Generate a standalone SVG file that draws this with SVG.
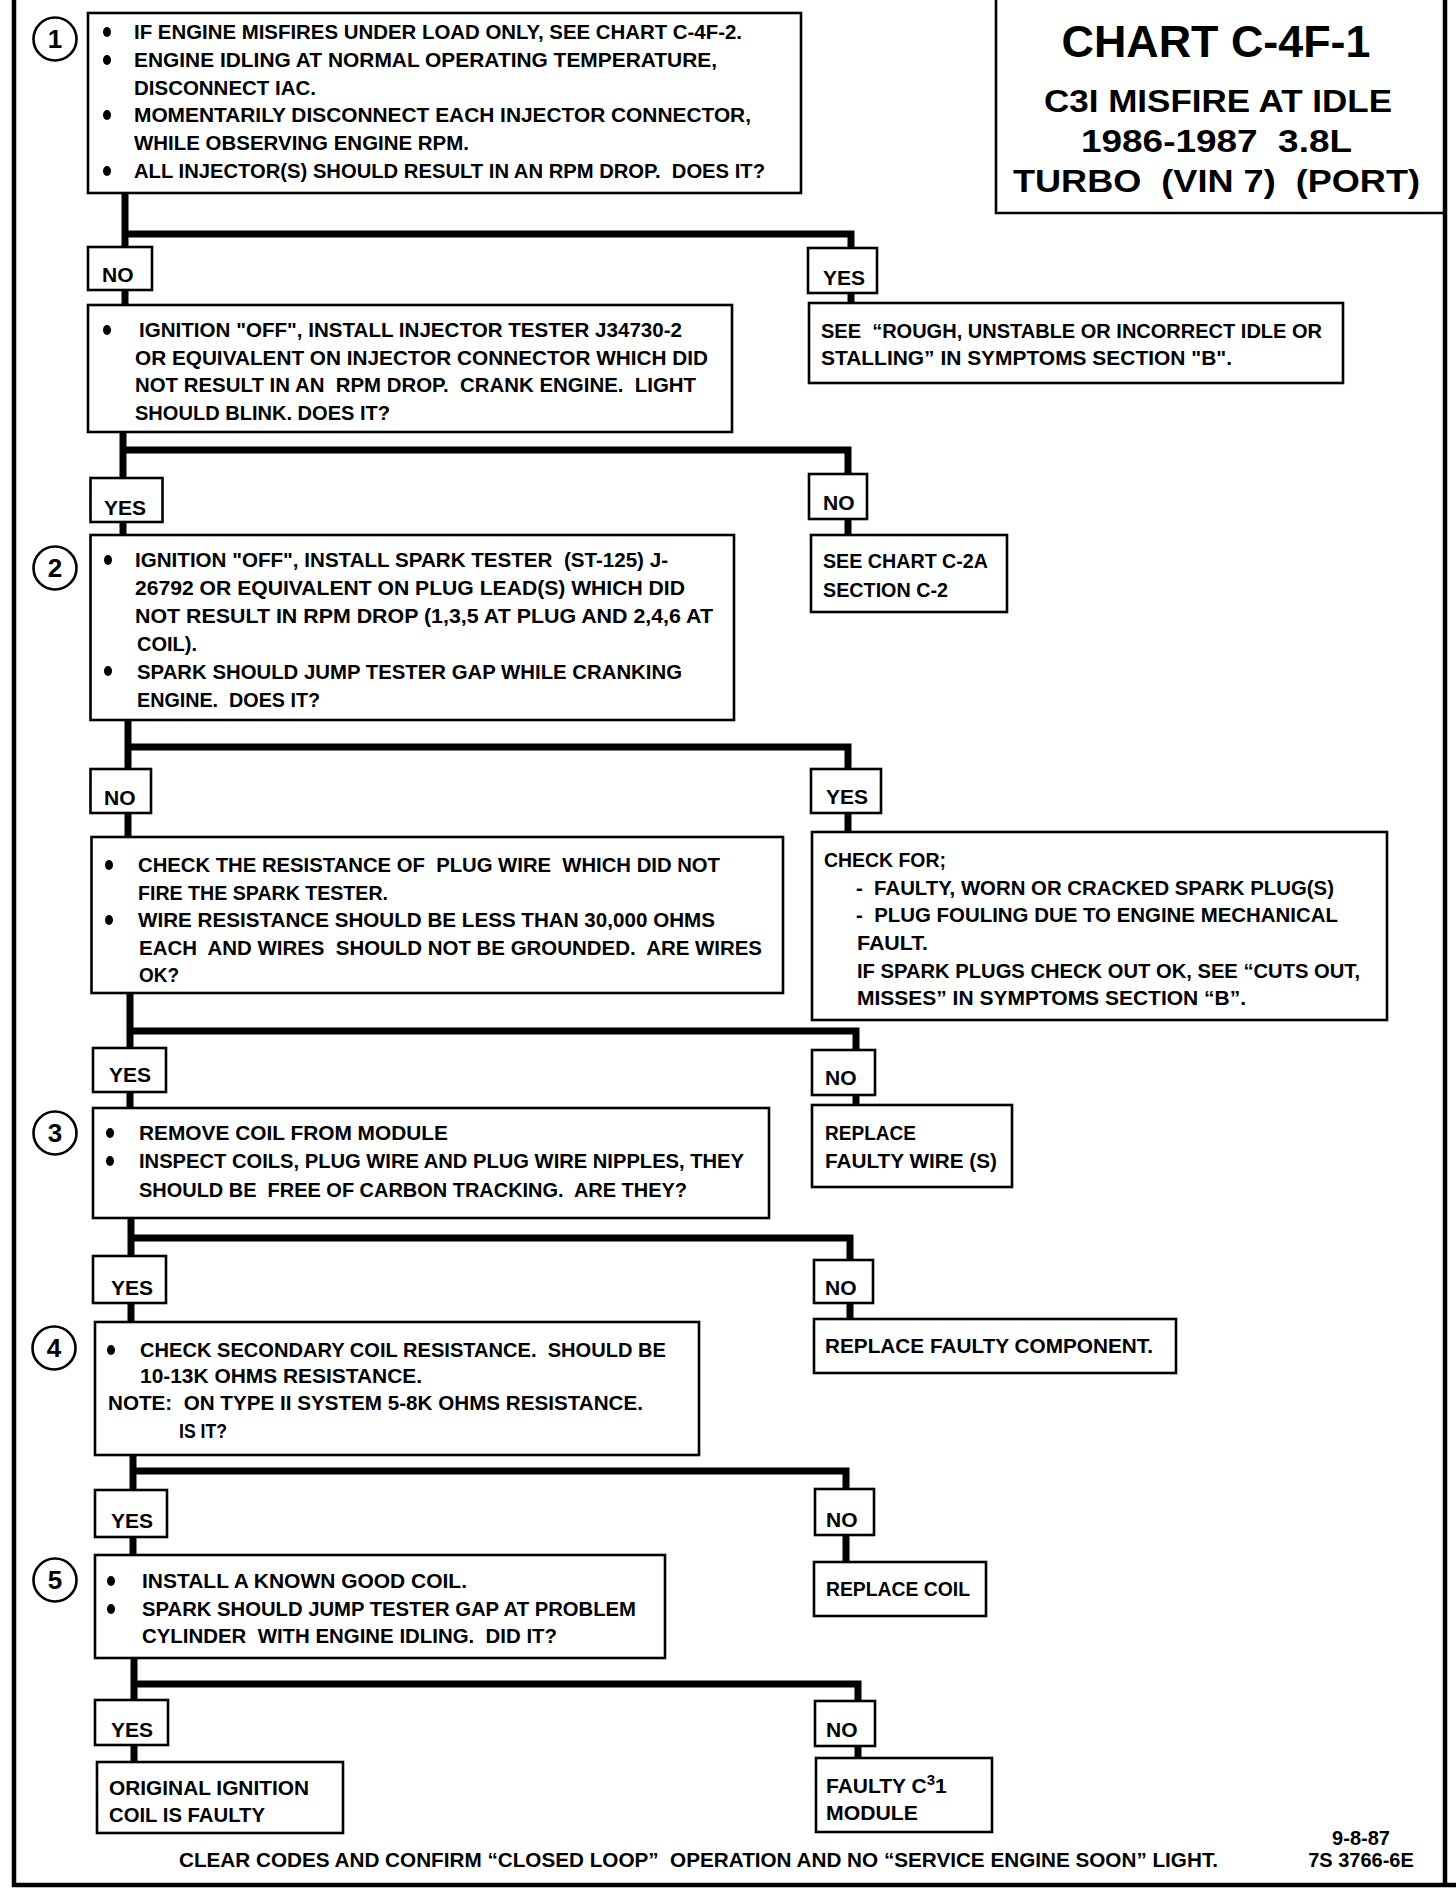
<svg xmlns="http://www.w3.org/2000/svg" width="1456" height="1888" viewBox="0 0 1456 1888" xml:space="preserve">
<style>
text{font-family:"Liberation Sans",Arial,sans-serif;font-weight:bold;font-size:21px;fill:#000;white-space:pre}
.box{fill:#fff;stroke:#000;stroke-width:2.6}
.lbl{fill:#fff;stroke:#000;stroke-width:2.6}
.con{fill:none;stroke:#000;stroke-width:7;stroke-linejoin:miter;stroke-linecap:butt}
.frame{fill:none;stroke:#000;stroke-width:4.5}
.num{fill:#fff;stroke:#000;stroke-width:2.6}
.numt{font-size:26px;text-anchor:middle}
.title{font-size:31px}
.mid{text-anchor:middle}
</style>
<rect width="1456" height="1888" fill="#fff"/>
<g id="frame">
<path class="frame" d="M14 0 V1885 H1456"/>
<path class="frame" d="M1445 0 V1885"/>
</g>
<g id="title">
<path class="box" d="M996 0 V213 H1445" fill="none"/>
<text x="1216" y="57" text-anchor="middle" textLength="309" lengthAdjust="spacingAndGlyphs" style="font-size:44px">CHART C-4F-1</text>
<text class="title" x="1044" y="112" textLength="348" lengthAdjust="spacingAndGlyphs">C3I MISFIRE AT IDLE</text>
<text class="title" x="1081" y="152" textLength="271" lengthAdjust="spacingAndGlyphs">1986-1987  3.8L</text>
<text class="title" x="1013" y="192" textLength="407" lengthAdjust="spacingAndGlyphs">TURBO  (VIN 7)  (PORT)</text>
</g>
<g id="connectors">
<path class="con" d="M125 193 V305"/><path class="con" d="M125 234 H851 V303"/>
<path class="con" d="M123 432 V535"/><path class="con" d="M123 450 H848 V535"/>
<path class="con" d="M128 720 V837"/><path class="con" d="M128 747 H848 V832"/>
<path class="con" d="M130 993 V1108"/><path class="con" d="M130 1031 H856 V1105"/>
<path class="con" d="M131 1218 V1322"/><path class="con" d="M131 1238 H850 V1319"/>
<path class="con" d="M133 1455 V1555"/><path class="con" d="M133 1471 H846 V1562"/>
<path class="con" d="M134 1658 V1762"/><path class="con" d="M134 1684 H858 V1758"/>
</g>
<g id="step1">
<circle class="num" cx="55" cy="39" r="21.5"/><text class="numt" x="55" y="48">1</text>
<rect class="box" x="88" y="13" width="713" height="180"/>
<ellipse cx="107" cy="32" rx="4" ry="5"/><ellipse cx="107" cy="60" rx="4" ry="5"/><ellipse cx="107" cy="115" rx="4" ry="5"/><ellipse cx="107" cy="171" rx="4" ry="5"/>
<text x="134" y="38.5" textLength="608" lengthAdjust="spacingAndGlyphs">IF ENGINE MISFIRES UNDER LOAD ONLY, SEE CHART C-4F-2.</text>
<text x="134" y="66.5" textLength="583" lengthAdjust="spacingAndGlyphs">ENGINE IDLING AT NORMAL OPERATING TEMPERATURE,</text>
<text x="134" y="94.5" textLength="182" lengthAdjust="spacingAndGlyphs">DISCONNECT IAC.</text>
<text x="134" y="122" textLength="617" lengthAdjust="spacingAndGlyphs">MOMENTARILY DISCONNECT EACH INJECTOR CONNECTOR,</text>
<text x="134" y="150" textLength="335" lengthAdjust="spacingAndGlyphs">WHILE OBSERVING ENGINE RPM.</text>
<text x="134" y="178" textLength="631" lengthAdjust="spacingAndGlyphs">ALL INJECTOR(S) SHOULD RESULT IN AN RPM DROP.  DOES IT?</text>
</g>
<g id="no1"><rect class="lbl" x="88" y="247" width="64" height="43"/><text x="102" y="282">NO</text></g>
<g id="yes1"><rect class="lbl" x="808" y="248" width="69" height="45"/><text x="823" y="285">YES</text></g>
<g id="rough-idle">
<rect class="box" x="809" y="303" width="534" height="80"/>
<text x="821" y="338" textLength="501" lengthAdjust="spacingAndGlyphs">SEE  “ROUGH, UNSTABLE OR INCORRECT IDLE OR</text>
<text x="821" y="365" textLength="411" lengthAdjust="spacingAndGlyphs">STALLING” IN SYMPTOMS SECTION "B".</text>
</g>
<g id="injector-tester">
<rect class="box" x="88" y="305" width="644" height="127"/>
<ellipse cx="107" cy="330" rx="4" ry="5"/>
<text x="139" y="337" textLength="543" lengthAdjust="spacingAndGlyphs">IGNITION "OFF", INSTALL INJECTOR TESTER J34730-2</text>
<text x="135" y="364.5" textLength="573" lengthAdjust="spacingAndGlyphs">OR EQUIVALENT ON INJECTOR CONNECTOR WHICH DID</text>
<text x="135" y="392" textLength="561" lengthAdjust="spacingAndGlyphs">NOT RESULT IN AN  RPM DROP.  CRANK ENGINE.  LIGHT</text>
<text x="135" y="419.5" textLength="255" lengthAdjust="spacingAndGlyphs">SHOULD BLINK. DOES IT?</text>
</g>
<g id="yes2"><rect class="lbl" x="90.5" y="478" width="72" height="44"/><text x="104" y="515">YES</text></g>
<g id="no2"><rect class="lbl" x="809" y="474" width="58" height="45"/><text x="823" y="510">NO</text></g>
<g id="chart-c2a">
<rect class="box" x="811" y="535" width="196" height="77"/>
<text x="823" y="568" textLength="165" lengthAdjust="spacingAndGlyphs">SEE CHART C-2A</text>
<text x="823" y="597" textLength="125" lengthAdjust="spacingAndGlyphs">SECTION C-2</text>
</g>
<g id="step2">
<circle class="num" cx="55" cy="568" r="21.5"/><text class="numt" x="55" y="577">2</text>
<rect class="box" x="90.5" y="535" width="643.5" height="185"/>
<ellipse cx="108" cy="560" rx="4" ry="5"/><ellipse cx="108" cy="671" rx="4" ry="5"/>
<text x="135" y="567" textLength="533" lengthAdjust="spacingAndGlyphs">IGNITION "OFF", INSTALL SPARK TESTER  (ST-125) J-</text>
<text x="135" y="595" textLength="550" lengthAdjust="spacingAndGlyphs">26792 OR EQUIVALENT ON PLUG LEAD(S) WHICH DID</text>
<text x="135" y="623" textLength="578" lengthAdjust="spacingAndGlyphs">NOT RESULT IN RPM DROP (1,3,5 AT PLUG AND 2,4,6 AT</text>
<text x="137" y="651" textLength="60" lengthAdjust="spacingAndGlyphs">COIL).</text>
<text x="137" y="679" textLength="545" lengthAdjust="spacingAndGlyphs">SPARK SHOULD JUMP TESTER GAP WHILE CRANKING</text>
<text x="137" y="707" textLength="183" lengthAdjust="spacingAndGlyphs">ENGINE.  DOES IT?</text>
</g>
<g id="no3"><rect class="lbl" x="90.5" y="769" width="60.5" height="44"/><text x="104" y="805">NO</text></g>
<g id="yes3"><rect class="lbl" x="811" y="769" width="70" height="44"/><text x="826" y="804">YES</text></g>
<g id="check-plugs">
<rect class="box" x="812" y="832" width="575" height="188"/>
<text x="824" y="867" textLength="122" lengthAdjust="spacingAndGlyphs">CHECK FOR;</text>
<text x="856" y="895" textLength="478" lengthAdjust="spacingAndGlyphs">-  FAULTY, WORN OR CRACKED SPARK PLUG(S)</text>
<text x="856" y="922" textLength="482" lengthAdjust="spacingAndGlyphs">-  PLUG FOULING DUE TO ENGINE MECHANICAL</text>
<text x="857" y="950" textLength="71" lengthAdjust="spacingAndGlyphs">FAULT.</text>
<text x="857" y="978" textLength="503" lengthAdjust="spacingAndGlyphs">IF SPARK PLUGS CHECK OUT OK, SEE “CUTS OUT,</text>
<text x="857" y="1005" textLength="389" lengthAdjust="spacingAndGlyphs">MISSES” IN SYMPTOMS SECTION “B”.</text>
</g>
<g id="plug-wire">
<rect class="box" x="91.5" y="837" width="691.5" height="156"/>
<ellipse cx="109" cy="865" rx="4" ry="5"/><ellipse cx="109" cy="920" rx="4" ry="5"/>
<text x="138" y="872" textLength="582" lengthAdjust="spacingAndGlyphs">CHECK THE RESISTANCE OF  PLUG WIRE  WHICH DID NOT</text>
<text x="138" y="899.5" textLength="250" lengthAdjust="spacingAndGlyphs">FIRE THE SPARK TESTER.</text>
<text x="138" y="927" textLength="577" lengthAdjust="spacingAndGlyphs">WIRE RESISTANCE SHOULD BE LESS THAN 30,000 OHMS</text>
<text x="139" y="954.5" textLength="623" lengthAdjust="spacingAndGlyphs">EACH  AND WIRES  SHOULD NOT BE GROUNDED.  ARE WIRES</text>
<text x="139" y="982" textLength="40" lengthAdjust="spacingAndGlyphs">OK?</text>
</g>
<g id="yes4"><rect class="lbl" x="93" y="1048" width="73" height="44"/><text x="109" y="1082">YES</text></g>
<g id="no4"><rect class="lbl" x="812" y="1050" width="63" height="45"/><text x="825" y="1085">NO</text></g>
<g id="replace-wire">
<rect class="box" x="812" y="1105" width="200" height="82"/>
<text x="825" y="1140" textLength="91" lengthAdjust="spacingAndGlyphs">REPLACE</text>
<text x="825" y="1168" textLength="172" lengthAdjust="spacingAndGlyphs">FAULTY WIRE (S)</text>
</g>
<g id="step3">
<circle class="num" cx="55" cy="1133" r="21.5"/><text class="numt" x="55" y="1142">3</text>
<rect class="box" x="93" y="1108" width="676" height="110"/>
<ellipse cx="110" cy="1133" rx="4" ry="5"/><ellipse cx="110" cy="1161" rx="4" ry="5"/>
<text x="139" y="1140" textLength="309" lengthAdjust="spacingAndGlyphs">REMOVE COIL FROM MODULE</text>
<text x="139" y="1168" textLength="605" lengthAdjust="spacingAndGlyphs">INSPECT COILS, PLUG WIRE AND PLUG WIRE NIPPLES, THEY</text>
<text x="139" y="1197" textLength="548" lengthAdjust="spacingAndGlyphs">SHOULD BE  FREE OF CARBON TRACKING.  ARE THEY?</text>
</g>
<g id="yes5"><rect class="lbl" x="93" y="1256" width="73" height="47"/><text x="111" y="1295">YES</text></g>
<g id="no5"><rect class="lbl" x="814" y="1260" width="59" height="43"/><text x="825" y="1295">NO</text></g>
<g id="replace-component">
<rect class="box" x="814" y="1319" width="362" height="54"/>
<text x="825" y="1353" textLength="328" lengthAdjust="spacingAndGlyphs">REPLACE FAULTY COMPONENT.</text>
</g>
<g id="step4">
<circle class="num" cx="54" cy="1348" r="21.5"/><text class="numt" x="54" y="1357">4</text>
<rect class="box" x="95" y="1322" width="604" height="133"/>
<ellipse cx="111" cy="1350" rx="4" ry="5"/>
<text x="140" y="1357" textLength="526" lengthAdjust="spacingAndGlyphs">CHECK SECONDARY COIL RESISTANCE.  SHOULD BE</text>
<text x="140" y="1383" textLength="282" lengthAdjust="spacingAndGlyphs">10-13K OHMS RESISTANCE.</text>
<text x="108" y="1410" textLength="535" lengthAdjust="spacingAndGlyphs">NOTE:  ON TYPE II SYSTEM 5-8K OHMS RESISTANCE.</text>
<text x="179" y="1438" textLength="48" lengthAdjust="spacingAndGlyphs">IS IT?</text>
</g>
<g id="yes6"><rect class="lbl" x="95" y="1490" width="72" height="47"/><text x="111" y="1528">YES</text></g>
<g id="no6"><rect class="lbl" x="815" y="1489" width="59" height="46"/><text x="826" y="1527">NO</text></g>
<g id="replace-coil">
<rect class="box" x="814" y="1562" width="172" height="54"/>
<text x="826" y="1596" textLength="144" lengthAdjust="spacingAndGlyphs">REPLACE COIL</text>
</g>
<g id="step5">
<circle class="num" cx="55" cy="1580" r="21.5"/><text class="numt" x="55" y="1589">5</text>
<rect class="box" x="95" y="1555" width="570" height="103"/>
<ellipse cx="111" cy="1581" rx="4" ry="5"/><ellipse cx="111" cy="1609" rx="4" ry="5"/>
<text x="142" y="1588" textLength="325" lengthAdjust="spacingAndGlyphs">INSTALL A KNOWN GOOD COIL.</text>
<text x="142" y="1616" textLength="494" lengthAdjust="spacingAndGlyphs">SPARK SHOULD JUMP TESTER GAP AT PROBLEM</text>
<text x="142" y="1643" textLength="415" lengthAdjust="spacingAndGlyphs">CYLINDER  WITH ENGINE IDLING.  DID IT?</text>
</g>
<g id="yes7"><rect class="lbl" x="95" y="1700" width="73" height="45"/><text x="111" y="1737">YES</text></g>
<g id="no7"><rect class="lbl" x="815" y="1701" width="60" height="45"/><text x="826" y="1737">NO</text></g>
<g id="original-coil">
<rect class="box" x="97" y="1762" width="246" height="71"/>
<text x="109" y="1795" textLength="200" lengthAdjust="spacingAndGlyphs">ORIGINAL IGNITION</text>
<text x="109" y="1822" textLength="156" lengthAdjust="spacingAndGlyphs">COIL IS FAULTY</text>
</g>
<g id="faulty-module">
<rect class="box" x="816" y="1758" width="176" height="74"/>
<text x="826" y="1793">FAULTY C<tspan dy="-8" style="font-size:15px">3</tspan><tspan dy="8">1</tspan></text>
<text x="826" y="1820" textLength="92" lengthAdjust="spacingAndGlyphs">MODULE</text>
</g>
<g id="footer">
<text x="179" y="1867" textLength="1039" lengthAdjust="spacingAndGlyphs">CLEAR CODES AND CONFIRM “CLOSED LOOP”  OPERATION AND NO “SERVICE ENGINE SOON” LIGHT.</text>
<text class="mid" x="1361" y="1845" style="font-size:20px">9-8-87</text>
<text class="mid" x="1361" y="1867" style="font-size:20px">7S 3766-6E</text>
</g>
</svg>
